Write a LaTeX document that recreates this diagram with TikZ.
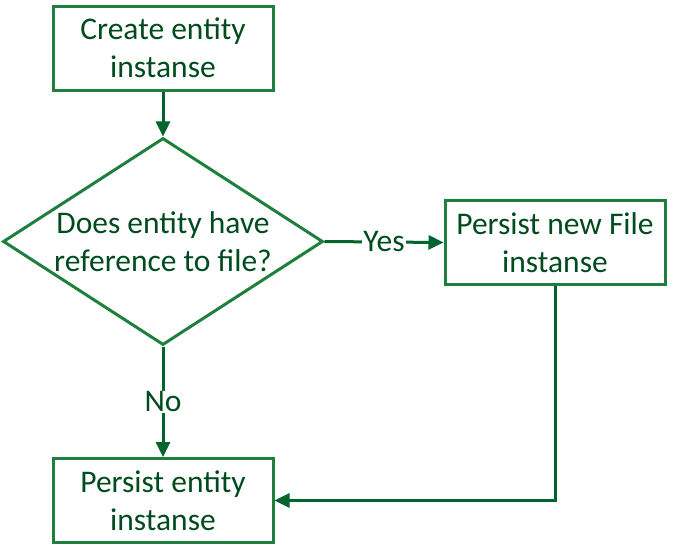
\documentclass[tikz,border=0pt]{standalone}
\usepackage{fontspec}
\setmainfont{Carlito}
\usetikzlibrary{arrows.meta,shapes.geometric}
\definecolor{boxgreen}{RGB}{30,128,60}
\definecolor{txtgreen}{RGB}{0,75,30}
\definecolor{arrgreen}{RGB}{0,100,45}
\tikzset{
  txt/.style={align=center, text=txtgreen, font=\fontsize{31.5pt}{38pt}\selectfont},
  stepbox/.style={txt, draw=boxgreen, line width=3pt, minimum width=220pt, minimum height=84pt,
    inner sep=0pt},
  decide/.style={draw=boxgreen, line width=3pt, diamond, minimum width=320pt, minimum height=207pt,
    inner sep=0pt},
  conn/.style={draw=arrgreen, line width=3pt, -{Triangle[length=15pt,width=14pt]}},
  lbl/.style={txt, fill=white, inner sep=1pt}
}
\begin{document}
\begin{tikzpicture}[x=1pt,y=-1pt]
\useasboundingbox (0,0) rectangle (680,555);
\node[stepbox] (create) at (163,48) {Create entity\\instanse};
\node[decide] (dec) at (163,241.5) {};
\node[txt] (dectext) at (163,241.5) {Does entity have\\reference to file?};
\node[stepbox] (file) at (555,242.5) {Persist new File\\instanse};
\node[stepbox] (persist) at (163,500.5) {Persist entity\\instanse};
\coordinate (corner) at (555,500.5);
\draw[conn] (create) -- (dec);
\draw[conn] (dec.east) -- node[lbl] {Yes} (file.west);
\draw[conn] (dec.south) -- node[lbl, pos=0.5] {No} (persist.north);
\draw[conn] (file.south) -- (corner) -- (persist.east);
\end{tikzpicture}
\end{document}
